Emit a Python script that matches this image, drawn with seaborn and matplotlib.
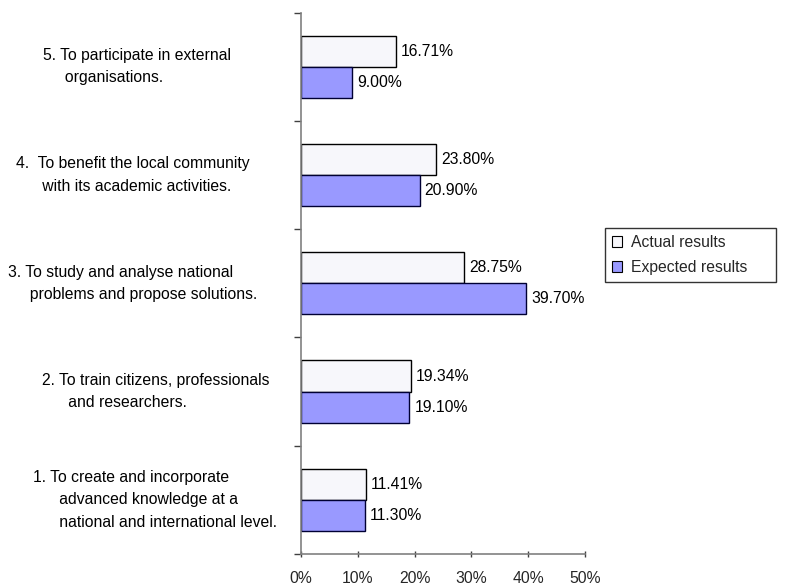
import matplotlib
matplotlib.use("Agg")
import matplotlib.pyplot as plt
import matplotlib.transforms as mtransforms
from matplotlib.ticker import FuncFormatter, FixedLocator
import seaborn as sns
import pandas as pd

# Objectives, listed top to bottom as drawn
objectives = [
    "5. To participate in external\n     organisations.",
    "4.  To benefit the local community\n      with its academic activities.",
    "3. To study and analyse national\n     problems and propose solutions.",
    "2. To train citizens, professionals\n      and researchers.",
    "1. To create and incorporate\n      advanced knowledge at a\n      national and international level.",
]
actual_results = [16.71, 23.80, 28.75, 19.34, 11.41]
expected_results = [9.00, 20.90, 39.70, 19.10, 11.30]
series_names = ["Actual results", "Expected results"]
x_ticks = [0, 10, 20, 30, 40, 50]

# Left edge (figure pixels) of each objective's text block
label_left_px = [43, 16, 8, 42, 33]

df = pd.DataFrame({
    "objective": objectives * 2,
    "series": [series_names[0]] * len(objectives) + [series_names[1]] * len(objectives),
    "value": actual_results + expected_results,
})

sns.set_theme(style="white")
plt.rcParams["font.family"] = ["Liberation Sans", "DejaVu Sans"]
FS = 11.3

W, H = 795, 588
fig = plt.figure(figsize=(W / 100, H / 100), dpi=100)
ax = fig.add_axes([301 / W, 1 - 554 / H, (585 - 301) / W, (554 - 12.7) / H])

palette = {series_names[0]: "#f7f7fb", series_names[1]: "#9999ff"}
sns.barplot(
    data=df, y="objective", x="value", hue="series",
    order=objectives, hue_order=series_names, palette=palette,
    orient="h", width=0.575, gap=0, dodge=True, saturation=1,
    edgecolor="#000000", linewidth=1.0, ax=ax, legend=True,
)

for patch in ax.patches:
    fc = patch.get_facecolor()
    if fc[2] > 0.99 and fc[0] < 0.7:
        patch.set_edgecolor("#000033")

for cont in ax.containers:
    ax.bar_label(cont, fmt="%.2f%%", padding=3.5, fontsize=FS, color="#000000")

ax.set_xlim(0, 50)
ax.set_ylim(len(objectives) - 0.5, -0.5)
ax.xaxis.set_major_locator(FixedLocator(x_ticks))
ax.xaxis.set_major_formatter(FuncFormatter(lambda v, p: f"{v:.0f}%"))
ax.set_yticks([i - 0.5 for i in range(len(objectives) + 1)])
ax.set_yticklabels([])
ax.set_xlabel("")
ax.set_ylabel("")

for side in ("top", "right"):
    ax.spines[side].set_visible(False)
for side in ("left", "bottom"):
    ax.spines[side].set_color("#808080")
    ax.spines[side].set_linewidth(1.2)

ax.tick_params(axis="x", direction="inout", length=5, width=1, color="#404040",
               labelsize=FS, pad=10, bottom=True)
ax.tick_params(axis="y", direction="out", length=5, width=1, color="#404040",
               left=True)

trans = mtransforms.blended_transform_factory(fig.transFigure, ax.transData)
for i, (txt, lx) in enumerate(zip(objectives, label_left_px)):
    ax.text(lx / W, i, txt, transform=trans, ha="left", va="center",
            fontsize=FS, linespacing=1.6, color="#000000")

# Legend box spanning a fixed width to the right of the plot
leg = ax.legend(
    loc="upper left", mode="expand",
    bbox_to_anchor=(605 / W, 1 - 281 / H, 171 / W, 53 / H),
    bbox_transform=fig.transFigure, frameon=True, fancybox=False,
    fontsize=FS, handlelength=0.65, handleheight=0.65, handletextpad=0.55,
    borderpad=0.45, labelspacing=0.62, borderaxespad=0,
)
leg.get_frame().set_edgecolor("#000000")
leg.get_frame().set_linewidth(1.0)
for h in leg.legend_handles:
    h.set_edgecolor("#000000")
    h.set_linewidth(0.8)

fig.savefig("out.png", dpi=100, facecolor="white")
